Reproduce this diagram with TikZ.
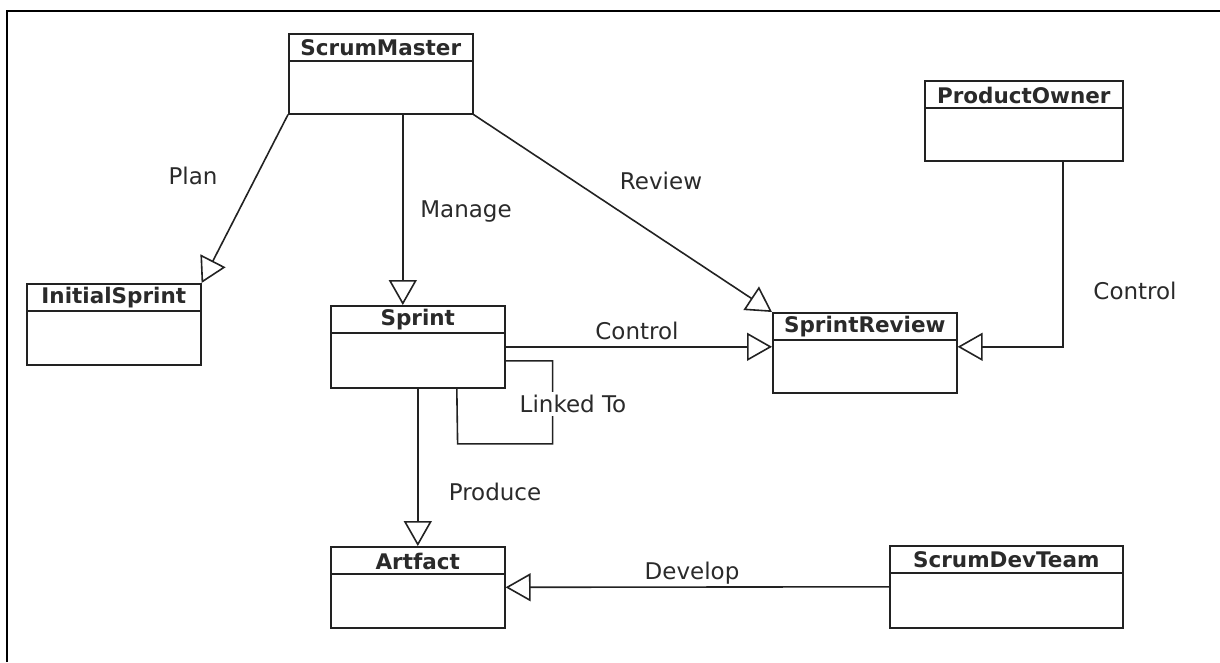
\documentclass[tikz,border=0pt]{standalone}
\usepackage{fontspec}
\setmainfont{DejaVu Sans}
\usetikzlibrary{arrows.meta,calc}
\definecolor{ink}{HTML}{222222}
\definecolor{txt}{HTML}{2A2A2A}
\tikzset{
  umlbox/.style={draw=ink, line width=1.6pt, rectangle, inner sep=0pt, anchor=north west},
  hdr/.style={font=\fontsize{21.5}{25}\selectfont\bfseries, text=txt, inner sep=0pt},
  lbl/.style={font=\fontsize{23}{27}\selectfont, text=txt, inner sep=1pt},
  conn/.style={draw=ink, line width=1.6pt},
  gen/.style={conn, -{Triangle[open, length=25pt, width=28pt, line width=1.6pt]}},
}
\newcommand{\umlclass}[6]{%
  \node[umlbox, minimum width=#4pt, minimum height=#5pt] (#1) at (#2,#3) {};
  \draw[ink, line width=1.6pt] ($(#1.north west)+(0,28)$) -- ($(#1.north east)+(0,28)$);
  \node[hdr] at ($(#1.north)+(0,15)$) {#6};
}
\begin{document}
\begin{tikzpicture}[x=1pt,y=-1pt]
\useasboundingbox (0,0) rectangle (1220,662);
% frame (top and left)
\draw[line width=2.5pt, black] (7,662) -- (7,11) -- (1220,11);

\umlclass{sm}{288}{33}{184}{80}{ScrumMaster}
\umlclass{po}{924}{80}{198}{80}{ProductOwner}
\umlclass{is}{26}{283}{174}{81}{InitialSprint}
\umlclass{sp}{330}{305}{174}{82}{Sprint}
\umlclass{sr}{772}{312}{184}{80}{SprintReview}
\umlclass{art}{330}{546}{174}{81}{Artfact}
\umlclass{dev}{889}{545}{233}{82}{ScrumDevTeam}

% connectors
\draw[gen] (sm.south west) -- (is.north east);
\draw[gen] ($(sm.south)+(22,0)$) -- ($(sp.north)+(-15,0)$);
\draw[gen] (sm.south east) -- (sr.north west);
\draw[gen] (sp.east) -- (sr.west |- sp.east);
\draw[gen] ($(po.south)+(39,0)$) |- (sr.east |- sp.east);
\draw[gen] (sp.south) -- (art.north);
\draw[gen] (dev.west) -- (art.east);
\draw[conn] ($(sp.east)+(0,14)$) -- ++(47,0) -- ++(0,83) -- ++(-95,0) -- ($(sp.south)+(39,0)$);

% labels
\node[lbl] (lplan) at (193,176) {Plan};
\node[lbl] (lmanage) at (466,212) {Manage};
\node[lbl] (lreview) at (661,181) {Review};
\node[lbl] (lctrl1) at (637,331) {Control};
\node[lbl] (lctrl2) at (1135,291) {Control};
\node[lbl, fill=white, inner sep=3pt] (llink) at (573,404) {Linked To};
\node[lbl] (lprod) at (495,492) {Produce};
\node[lbl] (ldev) at (692,573) {Develop};
\end{tikzpicture}
\end{document}
